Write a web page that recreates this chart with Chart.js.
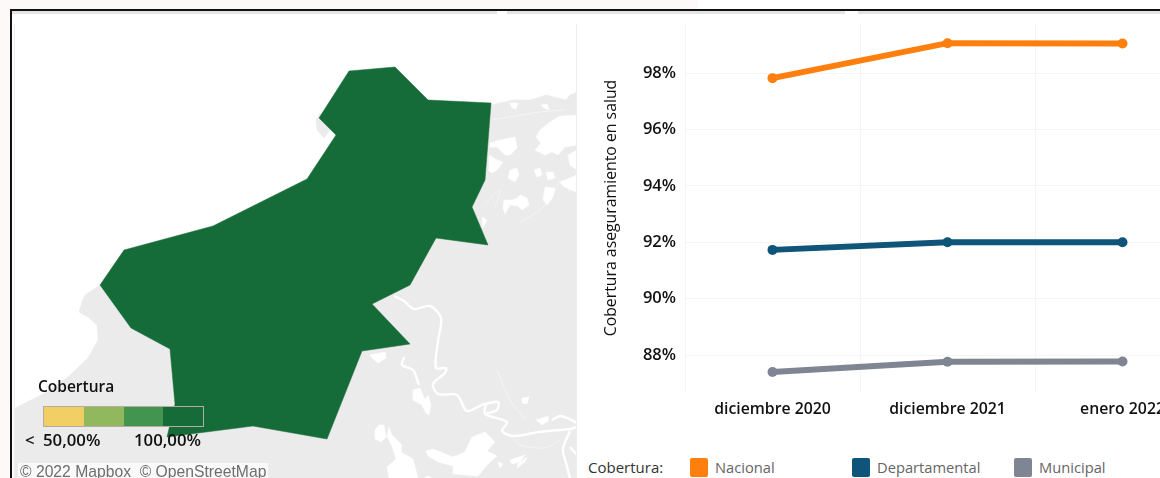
<!DOCTYPE html>
<html lang="es">
<head>
<meta charset="utf-8">
<title>Cobertura aseguramiento en salud</title>
<script src="https://cdn.jsdelivr.net/npm/chart.js@4/dist/chart.umd.js"></script>
<style>
html,body{margin:0;padding:0;width:1160px;height:478px;overflow:hidden;background:#fff;font-family:"Open Sans",sans-serif}
.abs{position:absolute}
.t{position:absolute;white-space:nowrap;line-height:1}
canvas{position:absolute;display:block}
</style>
</head>
<body>
<div class="abs" style="left:0;top:0;width:698px;height:9px;background:#fdf9f9"></div>
<div class="abs" style="left:0;top:0;width:10px;height:478px;background:#fdf9f9"></div>
<div class="abs" style="left:10px;top:9px;width:1150px;height:2px;background:#111"></div>
<div class="abs" style="left:10px;top:9px;width:2px;height:469px;background:#111"></div>
<div class="abs" style="left:12px;top:11px;width:485px;height:3px;background:#e4e4e4"></div>
<div class="abs" style="left:507px;top:11px;width:338px;height:3px;background:#e4e4e4"></div>
<div class="abs" style="left:858px;top:11px;width:302px;height:3px;background:#e4e4e4"></div>
<div class="abs" style="left:14px;top:24px;width:1px;height:454px;background:#eee"></div>
<canvas id="map" width="562" height="454" style="left:15px;top:24px"></canvas>
<div class="abs" style="left:576px;top:24px;width:1px;height:454px;background:#eee"></div>
<canvas id="lines" width="633" height="410" style="left:577px;top:24px"></canvas>

<div class="t" style="left:38px;top:379px;font-size:15.5px;font-weight:600;color:#111">Cobertura</div>
<div class="abs" id="ramp" style="left:43px;top:406px;width:159px;height:19px;border:1px solid #b5ad9f;display:flex"></div>
<div class="t" style="left:25px;top:432px;font-size:16.8px;font-weight:600;color:#111">&lt;</div>
<div class="t" style="left:43px;top:432px;font-size:16.8px;font-weight:600;color:#111">50,00%</div>
<div class="t" style="left:134px;top:432px;font-size:16.8px;font-weight:600;color:#111">100,00%</div>
<div class="t" style="left:18px;top:463px;padding:0 2px;height:15px;background:rgba(255,255,255,.7);font:15.7px 'Liberation Sans',sans-serif;color:#6e6e6e">© 2022 Mapbox&nbsp; © OpenStreetMap</div>

<div class="t" style="left:588px;top:460px;font-size:15px;color:#333">Cobertura:</div>
<div id="legend"></div>

<script>
// --- line chart data
const categories = ['diciembre 2020', 'diciembre 2021', 'enero 2022'];
const nacional = [97.82, 99.06, 99.05];
const departamental = [91.73, 92.0, 92.0];
const municipal = [87.4, 87.76, 87.77];
const yTicks = [88, 90, 92, 94, 96, 98];
const seriesNames = ['Nacional', 'Departamental', 'Municipal'];
const seriesColors = ['#ff7f0e', '#0f5479', '#7f8592'];
const legendLefts = [690, 852, 1014];
const rampColors = ['#f2cf65', '#91b85c', '#42944f', '#166c38'];

// --- map geometry (map units)
const department = [[349,71],[395,67],[428,100],[491,103],[485,180],[472,207],[488,245],[436,238],[410,285],[372,304],[410,344],[362,351],[327,439],[253,426],[167,437],[175,404],[170,349],[131,328],[100,285],[124,250],[213,226],[307,179],[336,135],[319,118]];
const land = [[15,408],[45,393],[68,377],[88,358],[98,340],[97,325],[88,317],[79,312],[82,302],[85,295],[100,285],[110,285],[213,240],[320,185],[350,130],[350,110],[491,105],[513,100],[530,100],[546,95],[566,100],[570,95],[577,92],[577,478],[15,478]];
const islet = [[320,113],[316,120],[317,130],[324,138],[330,130]];
const holes = [
 [[577,115],[560,116],[550,122],[540,130],[536,137],[541,143],[535,150],[545,155],[552,152],[558,155],[565,147],[577,145]],
 [[490,143],[500,140],[515,137],[517,148],[510,155],[505,155],[497,147],[490,147]],
 [[489,155],[497,160],[503,162],[497,170],[492,173],[488,170]],
 [[510,170],[517,168],[519,175],[515,182],[508,178]],
 [[534,170],[540,168],[542,175],[537,177]],
 [[546,172],[553,172],[555,178],[548,180]],
 [[560,182],[577,175],[577,192],[570,190],[563,186]],
 [[545,187],[555,188],[553,197],[547,205],[543,200]],
 [[504,200],[512,200],[517,198],[520,195],[527,198],[529,205],[522,210],[518,206],[510,205],[505,214],[503,208]],
 [[568,155],[577,150],[577,170],[570,165]],
 [[510,103],[518,103],[516,109],[512,108]],
 [[541,105],[547,104],[549,110],[544,108]],
 [[482,217],[487,220],[483,228]],
 [[370,355],[385,352],[386,358],[378,363],[372,358]],
 [[413,390],[420,388],[425,400],[428,395],[431,405],[429,415],[426,413],[422,405],[413,400]],
 [[379,425],[384,425],[386,437],[381,442],[375,439],[375,430]],
 [[389,427],[392,435],[401,444],[401,452],[413,459],[418,478],[389,478],[387,467],[396,459],[392,446],[387,436]],
 [[426,451],[433,449],[453,457],[465,452],[472,437],[485,432],[495,442],[487,451],[497,456],[488,464],[478,476],[453,474],[453,466],[438,462],[428,456]],
 [[428,476],[432,478],[424,478]],
 [[498,462],[503,464],[500,468]],
 [[510,460],[525,455],[520,462],[512,464]],
 [[518,464],[527,457],[525,462],[517,468]],
 [[522,398],[529,397],[527,404],[522,403]],
 [[536,420],[548,416],[548,421],[542,425]]
];
const rivers = [
 [[394,296],[404,301],[414,309],[430,306],[441,318],[438,341],[436,368],[446,368],[445,373],[433,384],[438,394],[457,395],[467,411],[485,404],[485,414],[507,422],[502,431],[514,436],[539,432],[570,429],[577,427]],
 [[570,431],[563,449],[566,463],[570,478]],
 [[404,357],[402,365],[413,370],[419,385]],
 [[485,404],[498,402],[497,410],[485,414]],
 [[552,420],[560,416],[567,418],[577,423]],
 [[570,447],[577,455]]
];
const streams = [
 [[492,120],[515,116],[540,112],[565,110]],
 [[486,203],[500,190],[495,208]],
 [[520,222],[540,210],[552,195],[560,180]],
 [[497,370],[510,400],[525,420]],
 [[510,436],[520,445],[545,448],[560,440]]
];

// ramp + legend
const ramp = document.getElementById('ramp');
rampColors.forEach(c => {
  const d = document.createElement('div');
  d.style.cssText = 'flex:1;background:' + c;
  ramp.appendChild(d);
});
const lg = document.getElementById('legend');
seriesNames.forEach((n, i) => {
  const s = document.createElement('div');
  s.className = 'abs';
  s.style.cssText = 'left:' + legendLefts[i] + 'px;top:458px;width:18px;height:19px;border-radius:2px;background:' + seriesColors[i];
  lg.appendChild(s);
  const t = document.createElement('div');
  t.className = 't';
  t.style.cssText = 'left:' + (legendLefts[i] + 25) + 'px;top:460px;font-size:14.7px;color:#666';
  t.textContent = n;
  lg.appendChild(t);
});

// map chart (Chart.js paints the first dataset last, so the list runs top layer first)
const pts = a => a.map(p => ({x: p[0], y: p[1]}));
const poly = (a, c) => ({data: pts(a.concat([a[0]])), showLine: true, fill: 'shape', backgroundColor: c, borderColor: c, borderWidth: 0.5, pointRadius: 0, tension: 0});
const stroke = (a, c, w) => ({data: pts(a), showLine: true, fill: false, borderColor: c, borderWidth: w, pointRadius: 0, tension: 0.3});
new Chart(document.getElementById('map'), {
  type: 'scatter',
  data: {datasets: [
    poly(land, '#ebebeb'),
    poly(islet, '#ebebeb'),
    ...streams.map(a => stroke(a, '#f5f5f5', 1)),
    ...holes.map(a => poly(a, '#ffffff')),
    ...rivers.map(a => stroke(a, '#ffffff', 2.4)),
    poly(department, '#166c38')
  ].reverse()},
  options: {
    responsive: false, animation: false, events: [],
    layout: {padding: 0, autoPadding: false},
    plugins: {legend: {display: false}, tooltip: {enabled: false}},
    scales: {
      x: {type: 'linear', display: false, min: 15, max: 577},
      y: {type: 'linear', display: false, min: 24, max: 478, reverse: true}
    }
  }
});

// line chart
new Chart(document.getElementById('lines'), {
  type: 'line',
  data: {
    labels: categories,
    datasets: [nacional, departamental, municipal].map((d, i) => ({
      label: seriesNames[i], data: d,
      borderColor: seriesColors[i], backgroundColor: seriesColors[i],
      borderWidth: 6, pointRadius: 5, pointBorderWidth: 0, tension: 0, fill: false
    }))
  },
  options: {
    responsive: false, animation: false, events: [],
    layout: {padding: {left: 0, right: 0, top: 0, bottom: 0}, autoPadding: false},
    plugins: {legend: {display: false}, tooltip: {enabled: false}},
    scales: {
      x: {
        type: 'category', offset: true,
        afterFit: s => { s.height = 42; s.paddingLeft = 0; s.paddingRight = 0; },
        grid: {offset: true, color: '#f5f5f5', drawTicks: false, tickLength: 0},
        border: {display: false},
        ticks: {padding: 8, maxRotation: 0, color: '#111', font: {family: '"Open Sans"', size: 15.8, weight: 600}}
      },
      y: {
        min: 86.69, max: 99.74,
        afterBuildTicks: s => { s.ticks = yTicks.map(v => ({value: v})); },
        afterFit: s => { s.width = 108; s.paddingTop = 0; s.paddingBottom = 0; },
        grid: {color: '#f5f5f5', drawTicks: false, tickLength: 0},
        border: {display: false},
        title: {display: true, text: 'Cobertura aseguramiento en salud', color: '#111', padding: {top: 25, bottom: 0}, font: {family: '"Open Sans"', size: 15.8}},
        ticks: {padding: 9, color: '#111', font: {family: '"Open Sans"', size: 16.5, weight: 600}, callback: v => v + '%'}
      }
    }
  }
});
</script>
</body>
</html>
